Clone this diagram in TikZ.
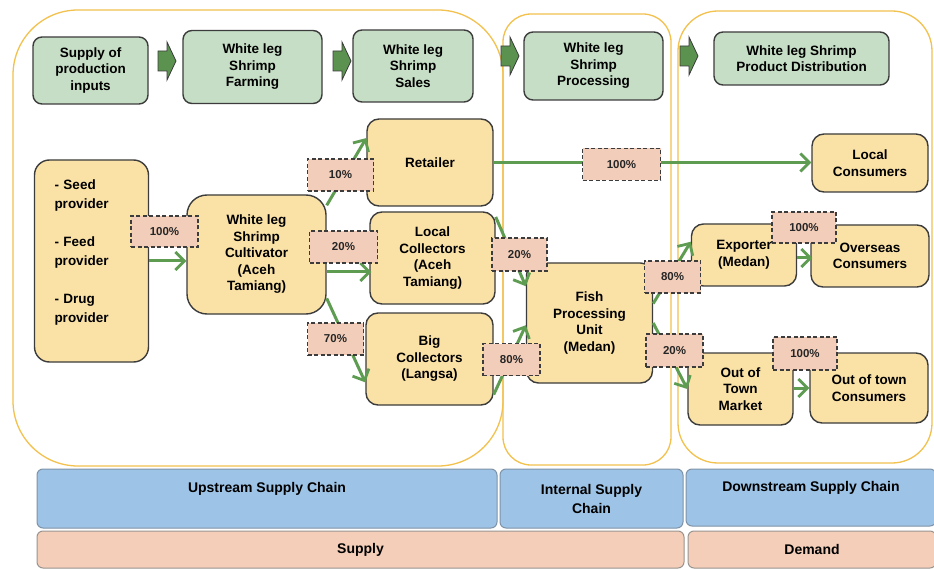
\documentclass[tikz,border=0pt]{standalone}
\usepackage{fontspec}
\setmainfont{Liberation Sans}
\usetikzlibrary{arrows.meta,calc}
\definecolor{gold}{HTML}{F2C14E}
\definecolor{hdrfill}{HTML}{C6DEC5}
\definecolor{boxfill}{HTML}{FAE2A7}
\definecolor{pctfill}{HTML}{F2CDB9}
\definecolor{flowgreen}{HTML}{5E9C52}
\definecolor{blockgreen}{HTML}{5B9250}
\definecolor{bandblue}{HTML}{9DC3E6}
\definecolor{bandblueedge}{HTML}{7E93A8}
\definecolor{bandsalmon}{HTML}{F4CEB8}
\definecolor{bandsalmonedge}{HTML}{9A9490}
\definecolor{edgegray}{HTML}{3C3C3C}
\tikzset{
  blockarrow/.pic={\draw[draw=edgegray,fill=blockgreen,line width=0.8pt]
    (0,-10)--(9,-10)--(9,-19)--(18,0)--(9,19)--(9,10)--(0,10)--cycle;}
}
\begin{document}
\begin{tikzpicture}[x=1pt,y=-1pt,
  container/.style={draw=gold,line width=1.3pt},
  hdr/.style={draw=edgegray,fill=hdrfill,line width=1.4pt,rounded corners=9pt,align=center,
    font=\bfseries\fontsize{13.5}{16.5}\selectfont,inner sep=0pt},
  ent/.style={draw=edgegray,fill=boxfill,line width=1.4pt,rounded corners=12pt,align=center,
    font=\bfseries\fontsize{13.5}{16.5}\selectfont,inner sep=0pt},
  pct/.style={draw=edgegray,fill=pctfill,line width=1.3pt,dash pattern=on 4pt off 2.5pt,
    font=\bfseries\fontsize{11.5}{13}\selectfont,inner sep=0pt,text=black!85},
  flow/.style={draw=flowgreen,line width=3pt,
    -{Straight Barb[length=9pt,width=18pt,line width=2.8pt]}},
  band/.style={line width=1pt,rounded corners=6pt,inner sep=0pt,align=center,
    font=\bfseries\fontsize{14}{19}\selectfont}
]
\fill[white] (0,0) rectangle (934,569);
\useasboundingbox (0,0) rectangle (934,569);

% containers
\draw[container,rounded corners=65pt] (13,10) rectangle (503,466);
\draw[container,rounded corners=28pt] (503,14) rectangle (671,465);
\draw[container,rounded corners=40pt] (678,11) rectangle (932,463);

% header boxes
\node[hdr,minimum width=115pt,minimum height=67pt] (h1) at (90.5,70.5) {Supply of\\production\\inputs};
\node[hdr,minimum width=139pt,minimum height=73pt] (h2) at (252.5,67) {White leg\\Shrimp\\Farming};
\node[hdr,minimum width=120pt,minimum height=72pt] (h3) at (413,66) {White leg\\Shrimp\\Sales};
\node[hdr,minimum width=139pt,minimum height=68pt] (h4) at (593.5,66) {White leg\\Shrimp\\Processing};
\node[hdr,minimum width=175pt,minimum height=53pt] (h5) at (801.5,58.5) {White leg Shrimp\\Product Distribution};

\pic at (158,61) {blockarrow};
\pic at (333,61) {blockarrow};
\pic at (501,56) {blockarrow};
\pic at (680,56) {blockarrow};

% entity boxes
\node[ent,rounded corners=15pt,minimum width=114pt,minimum height=202pt,align=left,text width=74pt,
  font=\bfseries\fontsize{13.5}{19}\selectfont] (prov) at (91.5,261)
  {- Seed\\provider\\[19pt]- Feed\\provider\\[19pt]- Drug\\provider\\\mbox{}};
\node[ent,rounded corners=20pt,minimum width=139pt,minimum height=119pt] (cult) at (256.5,254.5)
  {White leg\\Shrimp\\Cultivator\\(Aceh\\Tamiang)};
\node[ent,minimum width=126pt,minimum height=87pt] (ret) at (430,162.5) {Retailer};
\node[ent,minimum width=125pt,minimum height=92pt] (lc) at (432.5,258) {Local\\Collectors\\(Aceh\\Tamiang)};
\node[ent,minimum width=127pt,minimum height=92pt] (big) at (429.5,359) {Big\\Collectors\\(Langsa)};
\node[ent,minimum width=126pt,minimum height=120pt] (fpu) at (589.5,323) {Fish\\Processing\\Unit\\(Medan)};
\node[ent,minimum width=116pt,minimum height=58pt] (lcons) at (870,163) {Local\\Consumers};
\node[ent,minimum width=105pt,minimum height=62pt] (exp) at (744,255) {Exporter\\(Medan)};
\node[ent,minimum width=118pt,minimum height=62pt] (ovs) at (870,256) {Overseas\\Consumers};
\node[ent,minimum width=105pt,minimum height=72pt] (otm) at (740.5,389) {Out of\\Town\\Market};
\node[ent,minimum width=118pt,minimum height=70pt] (otc) at (869,388) {Out of town\\Consumers};

% flows
\coordinate (lcin) at ($(lc.west)+(2,14)$);
\coordinate (ovsin) at ($(ovs.west)+(2,2)$);
\draw[flow] (prov.east) -- (prov.east -| cult.west);
\draw[flow] (cult.35) -- (ret.159);
\draw[flow] (cult.east |- lcin) -- (lcin);
\draw[flow] (cult.-32) -- (big.200);
\draw[flow] (lc.33) -- (fpu.150);
\draw[flow] (big.-29) -- (fpu.182);
\draw[flow] (ret.east) -- (ret.east -| lcons.west);
\draw[flow] (fpu.17) -- (exp.166);
\draw[flow] (exp.east |- ovsin) -- (ovsin);
\draw[flow] (fpu.east) -- (otm.west);
\draw[flow] (otm.east |- otc.west) -- (otc.west);

% percentages
\node[pct,minimum width=67pt,minimum height=31pt] (p1) at (164.5,231.5) {100\%};
\node[pct,minimum width=66pt,minimum height=32pt] (p2) at (340.5,175) {10\%};
\node[pct,minimum width=68pt,minimum height=32pt] (p3) at (343.5,247) {20\%};
\node[pct,minimum width=56pt,minimum height=32pt] (p4) at (335.5,339) {70\%};
\node[pct,minimum width=55pt,minimum height=33pt] (p5) at (519.5,254.5) {20\%};
\node[pct,minimum width=57pt,minimum height=32pt] (p6) at (511.5,359.5) {80\%};
\node[pct,minimum width=78pt,minimum height=32pt] (p7) at (621.5,164.5) {100\%};
\node[pct,minimum width=56pt,minimum height=32pt] (p8) at (672.5,277) {80\%};
\node[pct,minimum width=64pt,minimum height=31pt] (p9) at (804,227.5) {100\%};
\node[pct,minimum width=57pt,minimum height=33pt] (p10) at (674.5,350.5) {20\%};
\node[pct,minimum width=64pt,minimum height=33pt] (p11) at (805,353.5) {100\%};

% bands
\node[band,draw=bandblueedge,fill=bandblue,minimum width=460pt,minimum height=59pt,
  label={[band,anchor=north,yshift=-13pt]north:Upstream Supply Chain}] (up) at (267,498.5) {};
\node[band,draw=bandblueedge,fill=bandblue,minimum width=183pt,minimum height=59pt] (int) at (591.5,498.5)
  {Internal Supply\\Chain};
\node[band,draw=bandblueedge,fill=bandblue,minimum width=250pt,minimum height=57pt,
  label={[band,anchor=north,yshift=-12pt]north:Downstream Supply Chain}] (down) at (811,497.5) {};
\node[band,draw=bandsalmonedge,fill=bandsalmon,minimum width=647pt,minimum height=37pt] (sup) at (360.5,549.5) {Supply};
\node[band,draw=bandsalmonedge,fill=bandsalmon,minimum width=248pt,minimum height=37pt] (dem) at (812,549.5) {Demand};
\end{tikzpicture}
\end{document}
